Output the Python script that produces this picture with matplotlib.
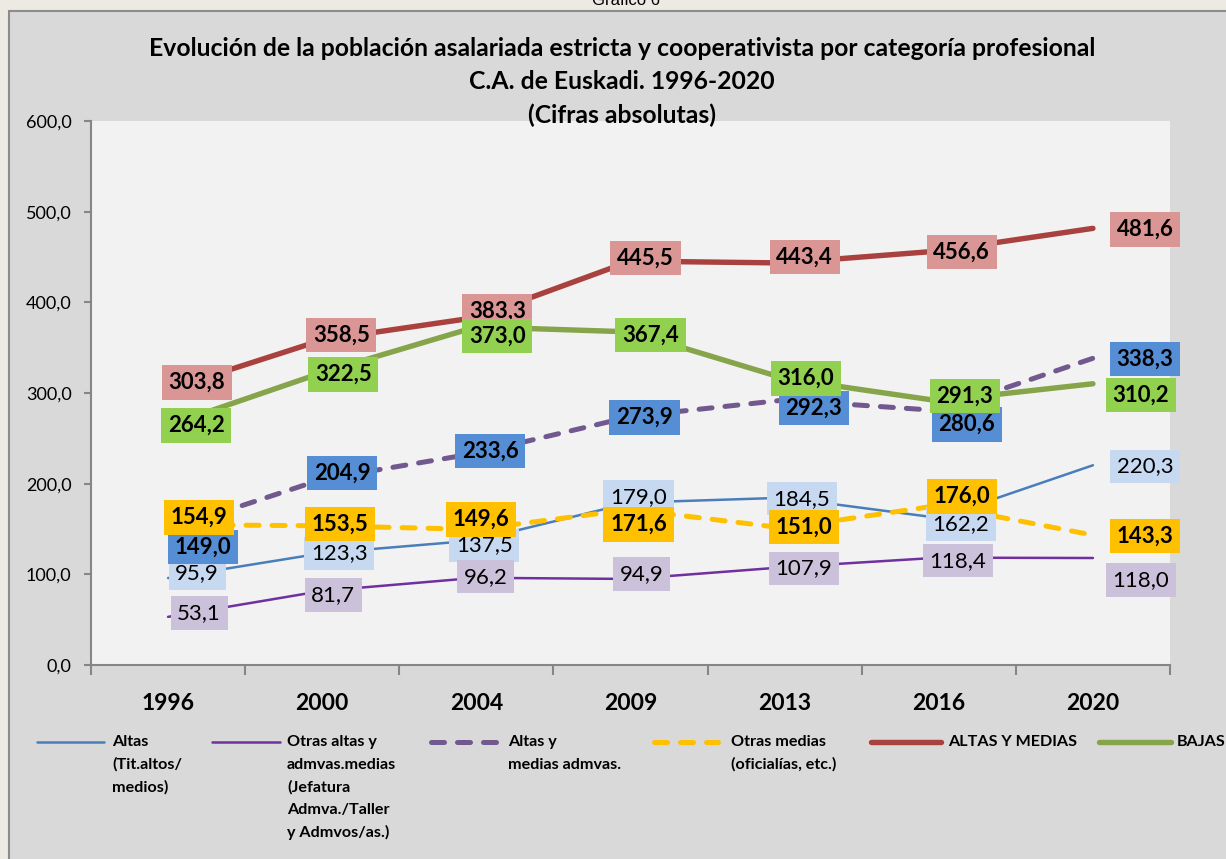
import matplotlib
matplotlib.use("Agg")
import matplotlib.pyplot as plt
from matplotlib.patches import Rectangle
from matplotlib.lines import Line2D

# data (miles de personas)
years = ["1996", "2000", "2004", "2009", "2013", "2016", "2020"]
altas = [95.9, 123.3, 137.5, 179.0, 184.5, 162.2, 220.3]
otras_altas = [53.1, 81.7, 96.2, 94.9, 107.9, 118.4, 118.0]
altas_medias_admvas = [149.0, 204.9, 233.6, 273.9, 292.3, 280.6, 338.3]
otras_medias = [154.9, 153.5, 149.6, 171.6, 151.0, 176.0, 143.3]
altas_y_medias = [303.8, 358.5, 383.3, 445.5, 443.4, 456.6, 481.6]
bajas = [264.2, 322.5, 373.0, 367.4, 316.0, 291.3, 310.2]
y_ticks = [0, 100, 200, 300, 400, 500, 600]

legend_labels = [
    "Altas\n(Tit.altos/\nmedios)",
    "Otras altas y\nadmvas.medias\n(Jefatura\nAdmva./Taller\ny Admvos/as.)",
    "Altas y\nmedias admvas.",
    "Otras medias\n(oficialías, etc.)",
    "ALTAS Y MEDIAS",
    "BAJAS",
]

# label offsets from each point, in pixels (x right, y up)
label_dx = {
    "altas": [29, 17, 8, 8, 17, 22, 52],
    "otras_altas": [31, 11, 9, 11, 19, 19, 48],
    "admvas": [35, 20, 14, 14, 29, 28, 52],
    "otras_medias": [31, 18, 5, 8, 19, 23, 52],
    "altas_y_medias": [29, 19, 21, 15, 20, 23, 52],
    "bajas": [28, 21, 21, 20, 21, 26, 48],
}
label_dy = {
    "altas": [5, 0, -5, 6, -1, -6, -1],
    "otras_altas": [4, -4, 1, 5, -1, -3, -22],
    "admvas": [-17, 6, 2, -1, -8, -14, -1],
    "otras_medias": [7, 2, 10, -15, 1, 9, -1],
    "altas_y_medias": [7, 5, 6, 3, 6, -1, -1],
    "bajas": [0, -2, -9, -3, 0, 5, -11],
}

W, H = 1226, 859
FONT = "Lato"

series = [
    ("altas", altas, "#4a7ebb", 1.8, False, "#c6d9f1", "normal"),
    ("otras_altas", otras_altas, "#7030a0", 1.8, False, "#ccc1da", "normal"),
    ("admvas", altas_medias_admvas, "#71588f", 3.6, True, "#558ed5", "bold"),
    ("otras_medias", otras_medias, "#ffc000", 3.6, True, "#ffc000", "bold"),
    ("altas_y_medias", altas_y_medias, "#a9413e", 3.9, False, "#da9694", "bold"),
    ("bajas", bajas, "#86a44a", 3.9, False, "#92d050", "bold"),
]


def fmt(v):
    return f"{v:.1f}".replace(".", ",")


def line_style(dashed):
    if dashed:
        return dict(linestyle=(0, (2.6, 2.6)), dash_capstyle="round")
    return dict(linestyle="-", solid_capstyle="round")


fig = plt.figure(figsize=(W / 100, H / 100), dpi=100)
fig.patch.set_facecolor("#ede9e3")
fig.add_artist(Rectangle((9 / W, -0.05), 1.1, 1 - 11 / H + 0.05,
                         transform=fig.transFigure, facecolor="#d9d9d9",
                         edgecolor="#8c8c8c", linewidth=1.5, zorder=-5))

ax = fig.add_axes([91 / W, 1 - 665 / H, (1170 - 91) / W, (665 - 121) / H])
ax.set_facecolor("#f2f2f2")

x = list(range(len(years)))
for key, vals, color, lw, dashed, box, weight in series:
    ax.plot(x, vals, color=color, linewidth=lw, zorder=2, **line_style(dashed))

for key, vals, color, lw, dashed, box, weight in series:
    for i, v in enumerate(vals):
        ax.annotate(fmt(v), (i, v), xytext=(label_dx[key][i], label_dy[key][i]),
                    textcoords="offset pixels", ha="center", va="center",
                    fontsize=16, fontweight=weight, family=FONT, color="black",
                    bbox=dict(boxstyle="square,pad=0.3", facecolor=box, edgecolor="none"),
                    zorder=5, annotation_clip=False)

ax.set_xlim(-0.5, len(years) - 0.5)
ax.set_ylim(0, 600)
ax.set_yticks(y_ticks)
ax.set_yticklabels([fmt(v) for v in y_ticks], family=FONT, fontsize=13)
ax.set_xticks([i - 0.5 for i in range(len(years) + 1)])
ax.set_xticklabels([])
ax.set_xticks(x, minor=True)
ax.set_xticklabels(years, minor=True, family=FONT, fontsize=16.5, fontweight="bold")
ax.tick_params(axis="x", which="major", length=7, width=1.5, color="#868686", direction="out")
ax.tick_params(axis="x", which="minor", length=0, pad=20)
ax.tick_params(axis="y", length=5, width=1.5, color="#868686", pad=9)
for side in ("top", "right"):
    ax.spines[side].set_visible(False)
for side in ("left", "bottom"):
    ax.spines[side].set_color("#868686")
    ax.spines[side].set_linewidth(1.5)

# header texts
fig.text(626 / W, 1 - 5 / H, "Gráfico 6", ha="center", va="baseline",
         family="Liberation Sans", fontsize=12)
title_lines = [
    "Evolución de la población asalariada estricta y cooperativista por categoría profesional",
    "C.A. de Euskadi. 1996-2020",
    "(Cifras absolutas)",
]
for j, t in enumerate(title_lines):
    fig.text(622 / W, 1 - (48 + 33.5 * j) / H, t, ha="center", va="center",
             family=FONT, fontsize=17.8, fontweight="bold", zorder=6)

# legend
handle_x = [(37, 104), (212, 280), (431, 496), (654, 718), (871, 941), (1099, 1171)]
text_x = [112, 287, 508, 731, 948, 1177]
for k, (key, vals, color, lw, dashed, box, weight) in enumerate(series):
    x0, x1 = handle_x[k]
    fig.add_artist(Line2D([x0 / W, x1 / W], [1 - 742 / H] * 2, transform=fig.transFigure,
                          color=color, linewidth=lw, **line_style(dashed)))
    for j, ln in enumerate(legend_labels[k].split("\n")):
        fig.text(text_x[k] / W, 1 - (742 + 22.6 * j) / H, ln, ha="left", va="center",
                 family=FONT, fontsize=11.6, fontweight="bold")

fig.savefig("out.png", dpi=100, facecolor=fig.get_facecolor())
